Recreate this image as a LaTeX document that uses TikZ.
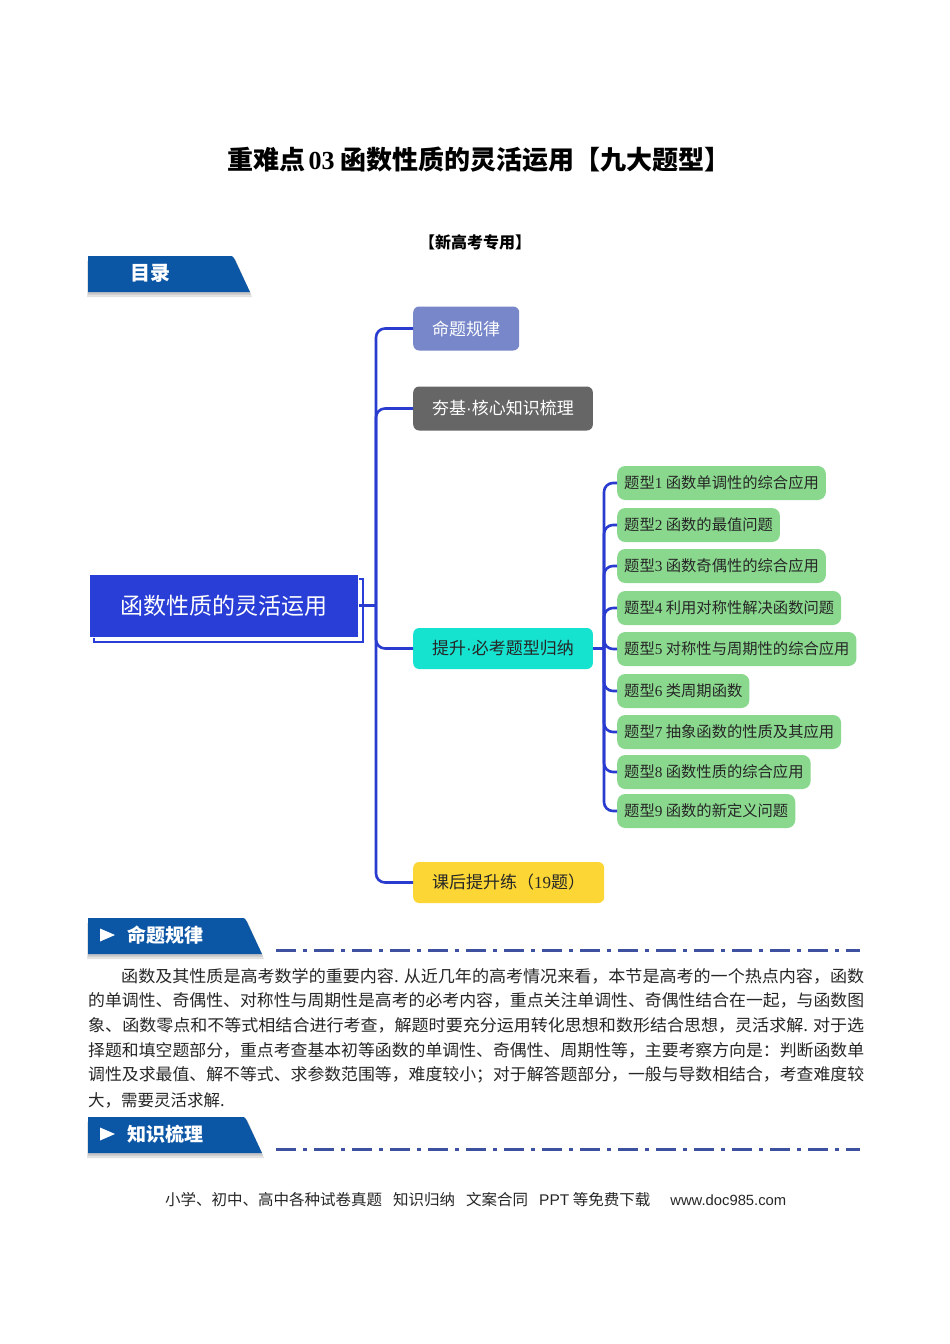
\documentclass[tikz,border=0pt]{standalone}
\usepackage{graphicx}
\usepackage{fontspec}
\setmainfont{Noto Sans CJK SC}
\newfontfamily\lat{Liberation Serif}
\newfontfamily\latsans{Liberation Sans}
\usetikzlibrary{shadows}
\definecolor{bannerblue}{RGB}{12,86,166}
\definecolor{rootblue}{RGB}{40,62,214}
\definecolor{lineblue}{RGB}{42,60,208}
\definecolor{purp}{RGB}{120,135,202}
\definecolor{greyn}{RGB}{102,102,102}
\definecolor{turq}{RGB}{22,226,208}
\definecolor{yell}{RGB}{252,214,52}
\definecolor{grn}{RGB}{138,216,142}
\definecolor{dashc}{RGB}{62,80,160}
\definecolor{txt}{RGB}{38,38,38}
\newcommand\jline[2]{\resizebox{#1}{\height}{#2}}
\tikzset{
  pics/banner/.style={code={
    \fill[gray!22] (-1,5) -- (#1-14,5) -- (#1+2,41) -- (-1,41) -- cycle;
    \fill[gray!45] (0,3) -- (#1-15,3) -- (#1+1,38.5) -- (0,38.5) -- cycle;
    \fill[bannerblue] (0,0) -- (#1-21,0) .. controls (#1-17,0) .. (#1-14.6,5) -- (#1,36) -- (0,36) -- cycle;
  }},
  conn/.style={draw=lineblue, line width=2.6pt, rounded corners=9pt},
  topnode/.style={rounded corners=6pt, minimum height=44pt, inner xsep=19pt, inner ysep=0pt,
    font=\fontsize{17}{20}\selectfont, anchor=west},
  tinode/.style={rounded corners=8pt, fill=grn, text=txt, minimum height=34pt, inner xsep=7pt,
    inner ysep=0pt, font=\fontsize{15.3}{18}\selectfont, anchor=west},
  rootnode/.style={fill=rootblue, draw=white, line width=1pt, minimum width=269pt, minimum height=63pt,
    text=white, font=\fontsize{23}{27}\selectfont,
    copy shadow={shadow xshift=5pt, shadow yshift=-5pt, fill=white, draw=rootblue, line width=2pt}},
  bantext/.style={font=\fontsize{19}{23}\selectfont\bfseries, text=white, anchor=west, inner sep=0pt},
  para/.style={anchor=west, inner sep=0pt, font=\fontsize{16.5}{20}\selectfont, text=txt},
  secline/.style={draw=dashc, line width=3pt, dash pattern=on 20pt off 7pt on 4pt off 7pt}
}
\begin{document}
\begin{tikzpicture}[x=1pt,y=-1pt]
\useasboundingbox[fill=white] (0,0) rectangle (950,1344);

% title
\node[font=\fontsize{26}{30}\selectfont\bfseries, text=black] (title) at (479,160)
  {重难点\hspace{3pt}{\lat\bfseries 03} 函数性质的灵活运用【九大题型】};
\node[font=\fontsize{16}{19}\selectfont\bfseries, text=black] (sub) at (475,242) {【新高考专用】};

% contents banner
\pic at (88,256) {banner=162};
\node[font=\fontsize{20}{24}\selectfont\bfseries, text=white] (mulu) at (150,273) {目录};

% mind map
\node[rootnode] (root) at (223.5,605.5) {函数性质的灵活运用};

\node[topnode, fill=purp, text=white] (n1) at (413,328.5) {命题规律};
\node[topnode, fill=greyn, text=white] (n2) at (413,408.5) {夯基{\latsans ·}核心知识梳理};
\node[topnode, fill=turq, text=txt, minimum height=41pt] (n3) at (413,648.5) {提升{\latsans ·}必考题型归纳};
\node[topnode, fill=yell, text=txt, minimum height=41pt] (n4) at (413,882.5) {课后提升练（{\lat 19}题）};

\node[tinode] (g1) at (617,483) {题型{\lat 1} 函数单调性的综合应用};
\node[tinode] (g2) at (617,525) {题型{\lat 2} 函数的最值问题};
\node[tinode] (g3) at (617,566) {题型{\lat 3} 函数奇偶性的综合应用};
\node[tinode] (g4) at (617,608) {题型{\lat 4} 利用对称性解决函数问题};
\node[tinode] (g5) at (617,649) {题型{\lat 5} 对称性与周期性的综合应用};
\node[tinode] (g6) at (617,691) {题型{\lat 6} 类周期函数};
\node[tinode] (g7) at (617,732) {题型{\lat 7} 抽象函数的性质及其应用};
\node[tinode] (g8) at (617,772) {题型{\lat 8} 函数性质的综合应用};
\node[tinode] (g9) at (617,811) {题型{\lat 9} 函数的新定义问题};

\coordinate (t1) at (376,605.5);
\draw[conn] (root.east) -- (t1);
\foreach \n in {n1,n2,n3,n4} \draw[conn] (t1) |- (\n.west);

\coordinate (t2) at (604,648.5);
\draw[conn] (n3.east) -- (t2);
\foreach \n in {g1,g2,g3,g4,g5,g6,g7,g8,g9} \draw[conn] (t2) |- (\n.west);

% section 1
\pic at (88,918) {banner=174};
\fill[white] (100,928.5) -- (115,935) -- (100,941.5) -- cycle;
\node[bantext] (s1) at (127,935) {命题规律};
\draw[secline] (276,950) -- (860,950);

\node[para] (p1) at (121,976) {\jline{743pt}{函数及其性质是高考数学的重要内容. 从近几年的高考情况来看，本节是高考的一个热点内容，函数}};
\node[para] (p2) at (88,1000) {\jline{776pt}{的单调性、奇偶性、对称性与周期性是高考的必考内容，重点关注单调性、奇偶性结合在一起，与函数图}};
\node[para] (p3) at (88,1025) {\jline{776pt}{象、函数零点和不等式相结合进行考查，解题时要充分运用转化思想和数形结合思想，灵活求解. 对于选}};
\node[para] (p4) at (88,1050) {\jline{776pt}{择题和填空题部分，重点考查基本初等函数的单调性、奇偶性、周期性等，主要考察方向是：判断函数单}};
\node[para] (p5) at (88,1075) {\jline{776pt}{调性及求最值、解不等式、求参数范围等，难度较小；对于解答题部分，一般与导数相结合，考查难度较}};
\node[para] (p6) at (88,1100) {大，需要灵活求解.};

% section 2
\pic at (88,1117) {banner=174};
\fill[white] (100,1127.5) -- (115,1134) -- (100,1140.5) -- cycle;
\node[bantext] (s2) at (127,1134) {知识梳理};
\draw[secline] (276,1149) -- (860,1149);

% footer
\node[font=\fontsize{15.5}{18}\selectfont, text=txt, anchor=west, inner sep=0pt] (foot) at (165,1200)
  {小学、初中、高中各种试卷真题\hspace{11pt}知识归纳\hspace{11pt}文案合同\hspace{11pt}{\latsans PPT} 等免费下载\hspace{20pt}{\latsans\fontsize{14.8}{17}\selectfont www.doc985.com}};
\end{tikzpicture}
\end{document}
